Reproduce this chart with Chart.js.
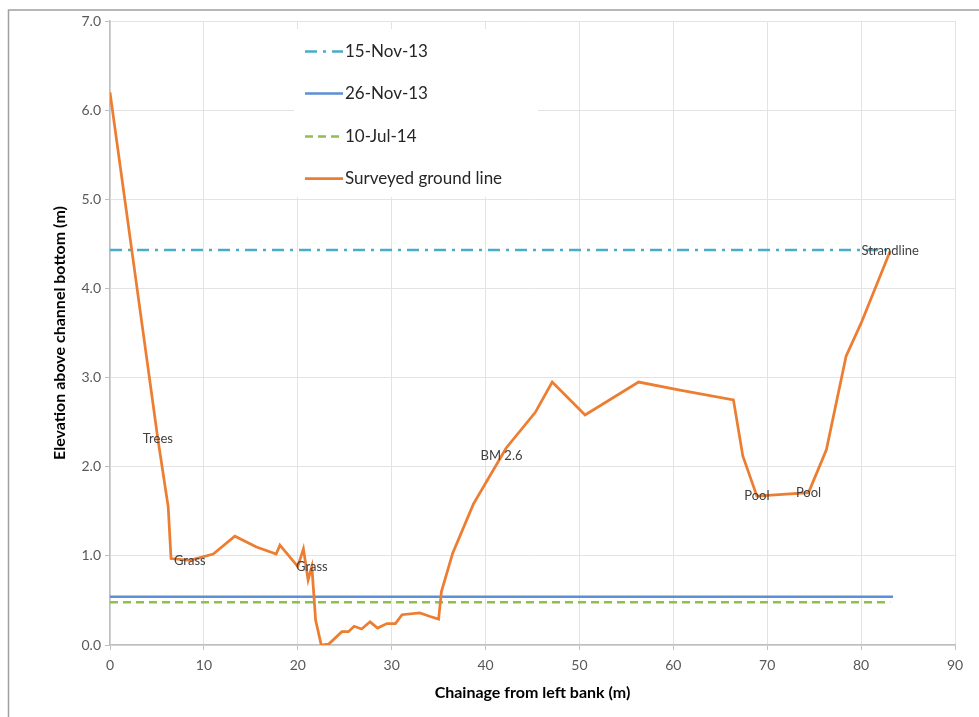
<!DOCTYPE html>
<html>
<head>
<meta charset="utf-8">
<script src="https://cdn.jsdelivr.net/npm/chart.js@4/dist/chart.umd.min.js"></script>
<style>
  html, body { margin: 0; padding: 0; background: #fff; }
  #wrap { width: 979px; height: 717px; position: relative; }
</style>
</head>
<body>
<div id="wrap"><canvas id="profileChart" width="979" height="717"></canvas></div>
<script>
  // surveyed cross section (chainage m, elevation m)
  const groundX = [0, 5.1, 6.2, 6.5, 8.5, 11.0, 13.3, 15.6, 17.7, 18.1, 20.0, 20.6, 21.1, 21.5, 21.9, 22.5, 23.3, 24.7, 25.4, 26.0, 26.8, 27.7, 28.5, 29.5, 30.4, 31.1, 33.0, 34.1, 35.0, 35.3, 36.5, 38.7, 41.7, 42.2, 45.3, 47.1, 50.6, 56.3, 60.7, 66.4, 67.4, 68.9, 74.4, 76.3, 78.4, 80.0, 83.1];
  const groundY = [6.2, 2.31, 1.55, 0.97, 0.95, 1.02, 1.22, 1.10, 1.02, 1.12, 0.88, 1.08, 0.73, 0.88, 0.28, 0.0, 0.01, 0.15, 0.15, 0.21, 0.18, 0.26, 0.19, 0.24, 0.24, 0.34, 0.36, 0.32, 0.29, 0.60, 1.03, 1.58, 2.12, 2.21, 2.61, 2.95, 2.58, 2.95, 2.86, 2.75, 2.12, 1.67, 1.71, 2.19, 3.24, 3.61, 4.42];

  // point labels on the ground line
  const noteText = ["Trees", "Grass", "Grass", "BM 2.6", "Pool", "Pool", "Strandline"];
  const noteX = [5.1, 8.5, 21.5, 41.7, 68.9, 74.4, 83.1];
  const noteY = [2.31, 0.95, 0.88, 2.12, 1.67, 1.71, 4.42];

  // water levels
  const levelNames = ["15-Nov-13", "26-Nov-13", "10-Jul-14"];
  const levelValues = [4.43, 0.54, 0.48];
  const levelEnd = [83.1, 83.4, 83.1];

  const xTicks = [0, 10, 20, 30, 40, 50, 60, 70, 80, 90];
  const yTicks = [0, 1, 2, 3, 4, 5, 6, 7];

  const FONT = "Lato, 'Open Sans', sans-serif";

  function levelLine(i) {
    return [{ x: 0, y: levelValues[i] }, { x: levelEnd[i], y: levelValues[i] }];
  }

  const datasets = [
    {
      label: "Surveyed ground line",
      data: groundX.map((x, i) => ({ x: x, y: groundY[i] })),
      borderColor: "#ed7d31",
      borderWidth: 2.75,
      order: 0,
    },
    {
      label: levelNames[0],
      data: levelLine(0),
      borderColor: "#4bacc6",
      borderWidth: 2.5,
      borderDash: [12, 6, 3, 6],
      order: 3,
    },
    {
      label: levelNames[1],
      data: levelLine(1),
      borderColor: "#5b8fd6",
      borderWidth: 2.5,
      order: 2,
    },
    {
      label: levelNames[2],
      data: levelLine(2),
      borderColor: "#8fc04f",
      borderWidth: 2.5,
      borderDash: [8, 5],
      order: 1,
    },
  ];
  datasets.forEach((d) => {
    d.showLine = true;
    d.pointRadius = 0;
    d.pointHoverRadius = 0;
    d.tension = 0;
    d.fill = false;
  });

  // legend drawn inside plot, Excel style
  const legendOrder = [1, 2, 3, 0];
  const insideLegend = {
    id: "insideLegend",
    afterDatasetsDraw(chart) {
      const ctx = chart.ctx;
      ctx.save();
      ctx.fillStyle = "#ffffff";
      ctx.fillRect(294, 29, 244, 168);
      const rows = [51, 93, 136, 178];
      legendOrder.forEach((idx, r) => {
        const ds = chart.data.datasets[idx];
        const y = rows[r] + 0.5;
        ctx.beginPath();
        ctx.strokeStyle = ds.borderColor;
        ctx.lineWidth = ds.borderWidth;
        ctx.setLineDash(ds.borderDash || []);
        ctx.moveTo(305, y);
        ctx.lineTo(343, y);
        ctx.stroke();
        ctx.setLineDash([]);
        ctx.fillStyle = "#262626";
        ctx.font = "17px " + FONT;
        ctx.textBaseline = "middle";
        ctx.textAlign = "left";
        ctx.fillText(ds.label, 345, y);
      });
      ctx.restore();
    },
  };

  const pointNotes = {
    id: "pointNotes",
    afterDatasetsDraw(chart) {
      const ctx = chart.ctx;
      const xs = chart.scales.x;
      const ys = chart.scales.y;
      ctx.save();
      ctx.font = "13px " + FONT;
      ctx.fillStyle = "#404040";
      ctx.textAlign = "center";
      ctx.textBaseline = "middle";
      noteText.forEach((t, i) => {
        ctx.fillText(t, xs.getPixelForValue(noteX[i]), ys.getPixelForValue(noteY[i]));
      });
      ctx.restore();
    },
  };

  const frame = {
    id: "frame",
    afterDraw(chart) {
      const ctx = chart.ctx;
      ctx.save();
      ctx.strokeStyle = "#a0a0a0";
      ctx.lineWidth = 1.5;
      ctx.beginPath();
      ctx.moveTo(8.5, 717);
      ctx.lineTo(8.5, 10);
      ctx.lineTo(979, 10);
      ctx.stroke();
      ctx.restore();
    },
  };

  new Chart(document.getElementById("profileChart"), {
    type: "scatter",
    data: { datasets: datasets },
    plugins: [pointNotes, insideLegend, frame],
    options: {
      responsive: false,
      animation: false,
      events: [],
      layout: { padding: { left: 46, right: 24, top: 21, bottom: 11 } },
      plugins: {
        legend: { display: false },
        tooltip: { enabled: false },
      },
      scales: {
        x: {
          type: "linear",
          min: 0,
          max: 90,
          afterBuildTicks: (axis) => {
            axis.ticks = xTicks.map((v) => ({ value: v }));
          },
          afterFit: (axis) => {
            axis.height = 61;
          },
          grid: { color: "#e3e3e3", lineWidth: 1, tickLength: 5, tickColor: "#bfbfbf" },
          border: { color: "#bfbfbf", width: 1.5 },
          ticks: {
            color: "#595959",
            padding: 7,
            maxRotation: 0,
            font: { family: FONT, size: 14 },
          },
          title: {
            display: true,
            text: "Chainage from left bank (m)",
            color: "#000000",
            font: { family: FONT, size: 16, weight: "bold" },
          },
        },
        y: {
          type: "linear",
          min: 0,
          max: 7,
          afterBuildTicks: (axis) => {
            axis.ticks = yTicks.map((v) => ({ value: v }));
          },
          afterFit: (axis) => {
            axis.width = 64;
          },
          grid: { color: "#e3e3e3", lineWidth: 1, tickLength: 5, tickColor: "#bfbfbf" },
          border: { color: "#bfbfbf", width: 1.5 },
          ticks: {
            color: "#595959",
            padding: 4,
            font: { family: FONT, size: 14 },
            callback: (v) => Number(v).toFixed(1),
          },
          title: {
            display: true,
            text: "Elevation above channel bottom (m)",
            color: "#000000",
            font: { family: FONT, size: 16, weight: "bold" },
          },
        },
      },
    },
  });
</script>
</body>
</html>
